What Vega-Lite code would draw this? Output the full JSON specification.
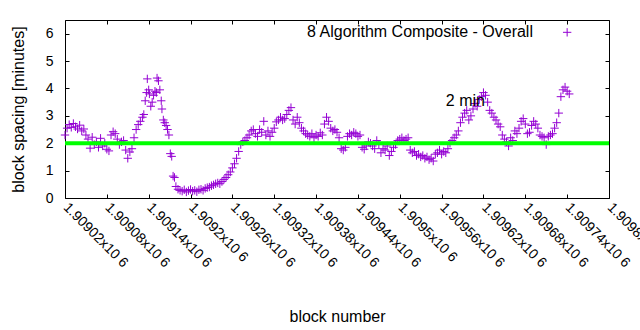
{
  "$schema": "https://vega.github.io/schema/vega-lite/v6.json",
  "width": 544,
  "height": 178,
  "autosize": "none",
  "padding": {"left": 65, "top": 20, "right": 31, "bottom": 132},
  "background": "white",
  "config": {
    "font": "Liberation Sans",
    "view": {"stroke": "black", "strokeWidth": 1},
    "axis": {
      "grid": false,
      "domain": false,
      "tickColor": "black",
      "tickWidth": 1,
      "tickSize": -4,
      "labelColor": "black",
      "labelFont": "Liberation Sans",
      "labelFontSize": 14,
      "titleFont": "Liberation Sans",
      "titleFontSize": 16,
      "titleFontWeight": "normal",
      "titleColor": "black",
      "labelFlush": false,
      "labelOverlap": false,
      "labelBound": false
    }
  },
  "datasets": {
    "blocks": [
    {"block":1909020,"spacing":2.30},{"block":1909023,"spacing":2.55},{"block":1909026,"spacing":2.68},{"block":1909029,"spacing":2.58},
    {"block":1909032,"spacing":2.72},{"block":1909035,"spacing":2.60},{"block":1909038,"spacing":2.52},{"block":1909041,"spacing":2.66},
    {"block":1909044,"spacing":2.45},{"block":1909047,"spacing":2.52},{"block":1909050,"spacing":2.30},{"block":1909053,"spacing":2.15},
    {"block":1909056,"spacing":1.82},{"block":1909059,"spacing":2.22},{"block":1909062,"spacing":1.95},{"block":1909065,"spacing":2.05},
    {"block":1909068,"spacing":1.85},{"block":1909071,"spacing":2.18},{"block":1909074,"spacing":1.90},{"block":1909077,"spacing":2.00},
    {"block":1909080,"spacing":1.78},{"block":1909083,"spacing":1.72},{"block":1909086,"spacing":2.30},{"block":1909089,"spacing":2.42},
    {"block":1909092,"spacing":2.35},{"block":1909095,"spacing":2.15},{"block":1909098,"spacing":1.95},{"block":1909101,"spacing":2.05},
    {"block":1909104,"spacing":2.10},{"block":1909107,"spacing":1.75},{"block":1909110,"spacing":1.45},{"block":1909113,"spacing":1.68},
    {"block":1909116,"spacing":1.80},{"block":1909119,"spacing":2.20},{"block":1909122,"spacing":2.50},{"block":1909125,"spacing":2.68},
    {"block":1909128,"spacing":2.80},{"block":1909131,"spacing":2.95},{"block":1909133,"spacing":3.05},{"block":1909135,"spacing":3.55},
    {"block":1909137,"spacing":3.85},{"block":1909138,"spacing":4.35},{"block":1909140,"spacing":3.95},{"block":1909141,"spacing":3.80},
    {"block":1909143,"spacing":3.35},{"block":1909145,"spacing":3.50},{"block":1909147,"spacing":3.75},{"block":1909149,"spacing":3.90},
    {"block":1909151,"spacing":3.85},{"block":1909152,"spacing":4.38},{"block":1909154,"spacing":4.28},{"block":1909156,"spacing":3.95},
    {"block":1909158,"spacing":3.55},{"block":1909159,"spacing":3.25},{"block":1909161,"spacing":2.85},{"block":1909163,"spacing":2.75},
    {"block":1909165,"spacing":2.65},{"block":1909167,"spacing":2.50},{"block":1909169,"spacing":2.30},{"block":1909171,"spacing":1.62},
    {"block":1909173,"spacing":1.52},{"block":1909175,"spacing":0.80},{"block":1909177,"spacing":0.75},{"block":1909179,"spacing":0.42},
    {"block":1909182,"spacing":0.32},{"block":1909185,"spacing":0.28},{"block":1909188,"spacing":0.25},{"block":1909191,"spacing":0.30},
    {"block":1909194,"spacing":0.22},{"block":1909197,"spacing":0.27},{"block":1909200,"spacing":0.31},{"block":1909203,"spacing":0.25},
    {"block":1909206,"spacing":0.28},{"block":1909209,"spacing":0.23},{"block":1909212,"spacing":0.30},{"block":1909215,"spacing":0.32},
    {"block":1909218,"spacing":0.28},{"block":1909221,"spacing":0.35},{"block":1909224,"spacing":0.38},{"block":1909227,"spacing":0.40},
    {"block":1909230,"spacing":0.45},{"block":1909233,"spacing":0.48},{"block":1909236,"spacing":0.52},{"block":1909239,"spacing":0.55},
    {"block":1909242,"spacing":0.52},{"block":1909245,"spacing":0.60},{"block":1909248,"spacing":0.68},{"block":1909251,"spacing":0.75},
    {"block":1909254,"spacing":0.85},{"block":1909257,"spacing":0.95},{"block":1909260,"spacing":1.10},{"block":1909263,"spacing":1.25},
    {"block":1909266,"spacing":1.45},{"block":1909269,"spacing":1.70},{"block":1909272,"spacing":1.95},{"block":1909275,"spacing":2.05},
    {"block":1909278,"spacing":2.10},{"block":1909281,"spacing":2.20},{"block":1909284,"spacing":2.30},{"block":1909287,"spacing":2.45},
    {"block":1909290,"spacing":2.50},{"block":1909293,"spacing":2.35},{"block":1909296,"spacing":2.25},{"block":1909299,"spacing":2.50},
    {"block":1909302,"spacing":2.40},{"block":1909305,"spacing":2.80},{"block":1909308,"spacing":2.30},{"block":1909311,"spacing":2.45},
    {"block":1909314,"spacing":2.25},{"block":1909317,"spacing":2.40},{"block":1909320,"spacing":2.55},{"block":1909323,"spacing":2.78},
    {"block":1909326,"spacing":2.85},{"block":1909329,"spacing":2.95},{"block":1909332,"spacing":2.85},{"block":1909335,"spacing":2.90},
    {"block":1909338,"spacing":3.05},{"block":1909341,"spacing":3.20},{"block":1909344,"spacing":3.30},{"block":1909347,"spacing":2.85},
    {"block":1909350,"spacing":2.70},{"block":1909353,"spacing":2.95},{"block":1909356,"spacing":2.75},{"block":1909359,"spacing":2.55},
    {"block":1909362,"spacing":2.45},{"block":1909365,"spacing":2.35},{"block":1909368,"spacing":2.30},{"block":1909371,"spacing":2.25},
    {"block":1909374,"spacing":2.35},{"block":1909377,"spacing":2.20},{"block":1909380,"spacing":2.30},{"block":1909383,"spacing":2.25},
    {"block":1909386,"spacing":2.38},{"block":1909389,"spacing":2.30},{"block":1909392,"spacing":2.70},{"block":1909395,"spacing":2.95},
    {"block":1909398,"spacing":2.80},{"block":1909401,"spacing":2.55},{"block":1909404,"spacing":2.45},{"block":1909407,"spacing":2.50},
    {"block":1909410,"spacing":2.40},{"block":1909413,"spacing":2.20},{"block":1909416,"spacing":1.80},{"block":1909419,"spacing":1.75},
    {"block":1909422,"spacing":1.85},{"block":1909425,"spacing":2.25},{"block":1909428,"spacing":2.35},{"block":1909431,"spacing":2.30},
    {"block":1909434,"spacing":2.40},{"block":1909437,"spacing":2.35},{"block":1909440,"spacing":2.25},{"block":1909443,"spacing":2.30},
    {"block":1909446,"spacing":1.85},{"block":1909449,"spacing":1.78},{"block":1909452,"spacing":1.90},{"block":1909455,"spacing":2.05},
    {"block":1909458,"spacing":2.00},{"block":1909461,"spacing":1.90},{"block":1909464,"spacing":1.80},{"block":1909467,"spacing":2.10},
    {"block":1909470,"spacing":1.95},{"block":1909473,"spacing":1.65},{"block":1909476,"spacing":1.80},{"block":1909479,"spacing":1.75},
    {"block":1909482,"spacing":1.90},{"block":1909485,"spacing":1.55},{"block":1909488,"spacing":1.70},{"block":1909491,"spacing":1.85},
    {"block":1909494,"spacing":1.95},{"block":1909497,"spacing":2.10},{"block":1909500,"spacing":2.15},{"block":1909503,"spacing":2.20},
    {"block":1909506,"spacing":2.10},{"block":1909509,"spacing":2.15},{"block":1909512,"spacing":2.20},{"block":1909515,"spacing":1.75},
    {"block":1909518,"spacing":1.65},{"block":1909521,"spacing":1.70},{"block":1909524,"spacing":1.55},{"block":1909527,"spacing":1.60},
    {"block":1909530,"spacing":1.50},{"block":1909533,"spacing":1.55},{"block":1909536,"spacing":1.45},{"block":1909539,"spacing":1.50},
    {"block":1909542,"spacing":1.40},{"block":1909545,"spacing":1.45},{"block":1909548,"spacing":1.35},{"block":1909551,"spacing":1.60},
    {"block":1909554,"spacing":1.65},{"block":1909557,"spacing":1.75},{"block":1909560,"spacing":1.60},{"block":1909563,"spacing":1.70},
    {"block":1909566,"spacing":1.65},{"block":1909569,"spacing":1.80},{"block":1909572,"spacing":2.00},{"block":1909575,"spacing":2.10},
    {"block":1909578,"spacing":2.20},{"block":1909581,"spacing":2.30},{"block":1909584,"spacing":2.45},{"block":1909587,"spacing":2.75},
    {"block":1909590,"spacing":2.95},{"block":1909593,"spacing":3.10},{"block":1909596,"spacing":3.20},{"block":1909599,"spacing":2.85},
    {"block":1909602,"spacing":3.00},{"block":1909605,"spacing":3.25},{"block":1909608,"spacing":3.45},{"block":1909611,"spacing":3.35},
    {"block":1909614,"spacing":3.60},{"block":1909617,"spacing":3.70},{"block":1909620,"spacing":3.85},{"block":1909623,"spacing":3.75},
    {"block":1909626,"spacing":3.50},{"block":1909629,"spacing":3.20},{"block":1909632,"spacing":3.10},{"block":1909635,"spacing":2.95},
    {"block":1909638,"spacing":2.85},{"block":1909641,"spacing":2.70},{"block":1909644,"spacing":2.60},{"block":1909647,"spacing":2.30},
    {"block":1909650,"spacing":2.15},{"block":1909653,"spacing":2.05},{"block":1909656,"spacing":1.90},{"block":1909659,"spacing":2.20},
    {"block":1909662,"spacing":2.10},{"block":1909665,"spacing":2.45},{"block":1909668,"spacing":2.35},{"block":1909671,"spacing":2.55},
    {"block":1909674,"spacing":2.80},{"block":1909677,"spacing":2.90},{"block":1909680,"spacing":2.70},{"block":1909683,"spacing":2.35},
    {"block":1909686,"spacing":2.40},{"block":1909689,"spacing":2.65},{"block":1909692,"spacing":2.80},{"block":1909695,"spacing":2.70},
    {"block":1909698,"spacing":2.55},{"block":1909701,"spacing":2.30},{"block":1909704,"spacing":2.25},{"block":1909707,"spacing":2.20},
    {"block":1909710,"spacing":1.95},{"block":1909713,"spacing":2.25},{"block":1909716,"spacing":2.30},{"block":1909719,"spacing":2.35},
    {"block":1909722,"spacing":2.55},{"block":1909725,"spacing":2.75},{"block":1909728,"spacing":3.10},{"block":1909731,"spacing":3.70},
    {"block":1909734,"spacing":3.95},{"block":1909737,"spacing":4.05},{"block":1909740,"spacing":3.90},{"block":1909743,"spacing":3.80}
    ],
    "single": [{"label": "one"}]
  },
  "layer": [
    {
      "data": {"name": "blocks"},
      "mark": {"type": "point", "shape": "M-1,0L1,0M0,-1L0,1", "filled": false, "stroke": "#9400d3", "strokeWidth": 1, "size": 70, "opacity": 1},
      "encoding": {
        "x": {
          "field": "block", "type": "quantitative",
          "scale": {"domain": [1909020, 1909800], "nice": false, "zero": false},
          "axis": {
            "orient": "bottom",
            "values": [1909020,1909080,1909140,1909200,1909260,1909320,1909380,1909440,1909500,1909560,1909620,1909680,1909740,1909800],
            "labelExpr": "format(datum.value/1000000, '.6~f') + 'x10 6'",
            "labelAngle": 45,
            "labelAlign": "left",
            "labelBaseline": "middle",
            "labelPadding": 11,
            "title": "block number",
            "titleX": 272,
            "titleY": 110,
            "titleAlign": "center",
            "titleBaseline": "top"
          }
        },
        "y": {
          "field": "spacing", "type": "quantitative",
          "scale": {"domain": [0, 6.5], "nice": false, "zero": true},
          "axis": {
            "orient": "left",
            "values": [0,1,2,3,4,5,6],
            "labelPadding": 16,
            "title": "block spacing [minutes]",
            "titleX": -47,
            "titleY": 89,
            "titleAngle": -90,
            "titleAlign": "center",
            "titleBaseline": "middle"
          }
        }
      }
    },
    {
      "data": {"name": "single"},
      "mark": {"type": "rule", "color": "#00ff00", "strokeWidth": 4},
      "encoding": {"y": {"datum": 2, "type": "quantitative", "axis": null}}
    },
    {
      "data": {"name": "single"},
      "mark": {"type": "text", "text": "2 min", "align": "left", "baseline": "middle", "fontSize": 16, "color": "black", "font": "Liberation Sans"},
      "encoding": {
        "x": {"datum": 1909566, "type": "quantitative", "axis": null},
        "y": {"datum": 3.53, "type": "quantitative", "axis": null}
      }
    },
    {
      "data": {"name": "single"},
      "mark": {"type": "text", "text": "8 Algorithm Composite - Overall", "align": "right", "baseline": "middle", "fontSize": 16, "color": "black", "font": "Liberation Sans"},
      "encoding": {
        "x": {"datum": 1909691, "type": "quantitative", "axis": null},
        "y": {"datum": 6.05, "type": "quantitative", "axis": null}
      }
    },
    {
      "data": {"name": "single"},
      "mark": {"type": "point", "shape": "M-1,0L1,0M0,-1L0,1", "filled": false, "stroke": "#9400d3", "strokeWidth": 1, "size": 70, "opacity": 1},
      "encoding": {
        "x": {"datum": 1909740, "type": "quantitative", "axis": null},
        "y": {"datum": 6.05, "type": "quantitative", "axis": null}
      }
    },
    {
      "data": {"name": "blocks"},
      "mark": {"type": "point", "opacity": 0},
      "encoding": {
        "x": {
          "field": "block", "type": "quantitative",
          "axis": {
            "orient": "top", "labels": false, "title": null,
            "values": [1909020,1909080,1909140,1909200,1909260,1909320,1909380,1909440,1909500,1909560,1909620,1909680,1909740,1909800]
          }
        },
        "y": {
          "field": "spacing", "type": "quantitative",
          "axis": {"orient": "right", "labels": false, "title": null, "values": [0,1,2,3,4,5,6]}
        }
      }
    }
  ],
  "resolve": {"axis": {"x": "independent", "y": "independent"}}
}
